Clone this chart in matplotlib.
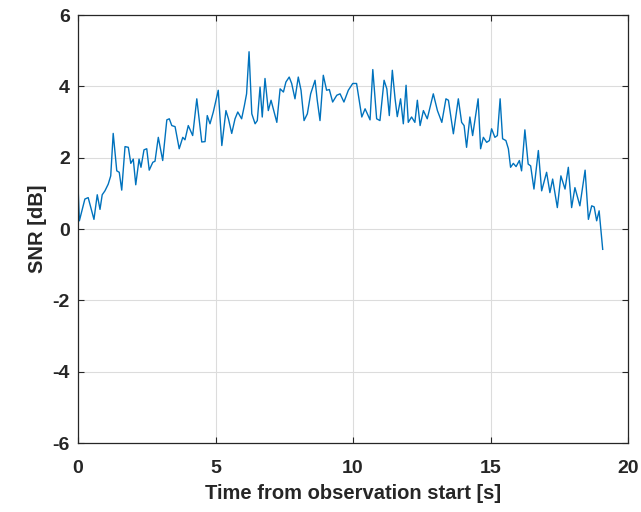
import matplotlib
matplotlib.use("Agg")
import matplotlib.pyplot as plt

plt.rcParams['font.family'] = ['Liberation Sans', 'DejaVu Sans']
plt.rcParams['axes.unicode_minus'] = False

time_s = [0.00, 0.05, 0.25, 0.37, 0.58, 0.70, 0.80, 0.88, 0.98, 1.10, 1.19, 1.28, 1.41, 1.50, 1.59,
          1.71, 1.83, 1.92, 2.01, 2.10, 2.22, 2.29, 2.40, 2.50, 2.59, 2.72, 2.80, 2.92, 3.08, 3.23,
          3.32, 3.41, 3.53, 3.68, 3.81, 3.89, 4.01, 4.17, 4.32, 4.50, 4.62, 4.70, 4.80, 4.92, 5.10,
          5.23, 5.38, 5.47, 5.59, 5.71, 5.81, 5.95, 6.05, 6.13, 6.22, 6.32, 6.44, 6.52, 6.62, 6.70,
          6.80, 6.92, 7.02, 7.10, 7.23, 7.35, 7.47, 7.56, 7.68, 7.77, 7.89, 8.01, 8.11, 8.22, 8.34,
          8.46, 8.62, 8.70, 8.80, 8.92, 9.04, 9.14, 9.26, 9.41, 9.53, 9.67, 9.83, 9.99, 10.13, 10.32,
          10.44, 10.62, 10.72, 10.86, 10.98, 11.13, 11.23, 11.32, 11.43, 11.53, 11.61, 11.73, 11.83,
          11.93, 12.01, 12.13, 12.25, 12.34, 12.44, 12.56, 12.70, 12.92, 13.07, 13.23, 13.38, 13.47,
          13.65, 13.83, 13.95, 14.04, 14.13, 14.25, 14.35, 14.55, 14.64, 14.74, 14.86, 14.96, 15.04,
          15.16, 15.25, 15.35, 15.44, 15.56, 15.65, 15.73, 15.83, 15.93, 16.05, 16.13, 16.25, 16.37,
          16.46, 16.58, 16.74, 16.86, 17.04, 17.16, 17.26, 17.43, 17.56, 17.71, 17.83, 17.95, 18.07,
          18.25, 18.44, 18.56, 18.68, 18.77, 18.86, 18.95, 19.08]

snr_db = [1.21, 0.23, 0.84, 0.88, 0.27, 0.96, 0.55, 0.96, 1.07, 1.26, 1.49, 2.68, 1.63, 1.59, 1.09,
          2.31, 2.29, 1.84, 1.96, 1.24, 1.96, 1.73, 2.22, 2.25, 1.65, 1.87, 1.90, 2.57, 1.92, 3.06,
          3.09, 2.90, 2.87, 2.25, 2.57, 2.50, 2.90, 2.62, 3.65, 2.44, 2.45, 3.18, 2.95, 3.28, 3.89,
          2.34, 3.32, 3.09, 2.68, 3.09, 3.28, 3.09, 3.46, 3.79, 4.97, 3.23, 2.95, 3.04, 3.98, 3.14,
          4.22, 3.32, 3.61, 3.37, 2.99, 3.93, 3.84, 4.12, 4.26, 4.08, 3.65, 4.26, 3.89, 3.04, 3.23,
          3.79, 4.17, 3.61, 3.04, 4.31, 3.89, 3.91, 3.56, 3.75, 3.79, 3.56, 3.89, 4.08, 4.08, 3.14,
          3.37, 3.06, 4.47, 3.09, 3.04, 4.17, 3.93, 3.18, 4.45, 3.65, 3.15, 3.65, 2.95,
          4.03, 2.99, 3.14, 2.99, 3.61, 2.90, 3.32, 3.09, 3.79, 3.32, 2.99, 3.65, 3.61,
          2.67, 3.65, 2.99, 2.90, 2.29, 3.14, 2.62, 3.65, 2.25, 2.57, 2.43, 2.48, 2.81,
          2.57, 2.62, 3.65, 2.53, 2.48, 2.25, 1.73, 1.84, 1.75, 1.92, 1.63, 2.78, 1.82,
          1.77, 1.12, 2.20, 1.07, 1.59, 1.02, 1.40, 0.60, 1.49, 1.12, 1.73, 0.60, 1.16,
          0.65, 1.65, 0.27, 0.65, 0.62, 0.23, 0.51, -0.57]

x_ticks = [0, 5, 10, 15, 20]
y_ticks = [-6, -4, -2, 0, 2, 4, 6]

fig = plt.figure(figsize=(6.41, 5.12), dpi=100)
ax = fig.add_axes([78/641, 1 - 443/512, (628 - 78)/641, (443 - 15)/512])

ax.plot(time_s, snr_db, color='#0072BD', linewidth=1.0)

ax.set_xlim(0, 20)
ax.set_ylim(-6, 6)
ax.set_xticks(x_ticks)
ax.set_yticks(y_ticks)
ax.grid(True, color='#dcdcdc', linewidth=0.8)
ax.set_axisbelow(True)

ax.tick_params(direction='in', length=4, width=0.8, top=True, right=True,
               labelsize=14, colors='#262626')
ax.tick_params(axis='x', pad=12)
ax.tick_params(axis='y', pad=6)
for lab in ax.get_xticklabels() + ax.get_yticklabels():
    lab.set_fontweight('bold')
for s in ax.spines.values():
    s.set_color('#262626')
    s.set_linewidth(0.9)

ax.set_xlabel('Time from observation start [s]', fontsize=14.5, fontweight='bold', color='#262626', labelpad=5)
ax.set_ylabel('SNR [dB]', fontsize=14.5, fontweight='bold', color='#262626', labelpad=4)

fig.savefig('out.png', dpi=100)
